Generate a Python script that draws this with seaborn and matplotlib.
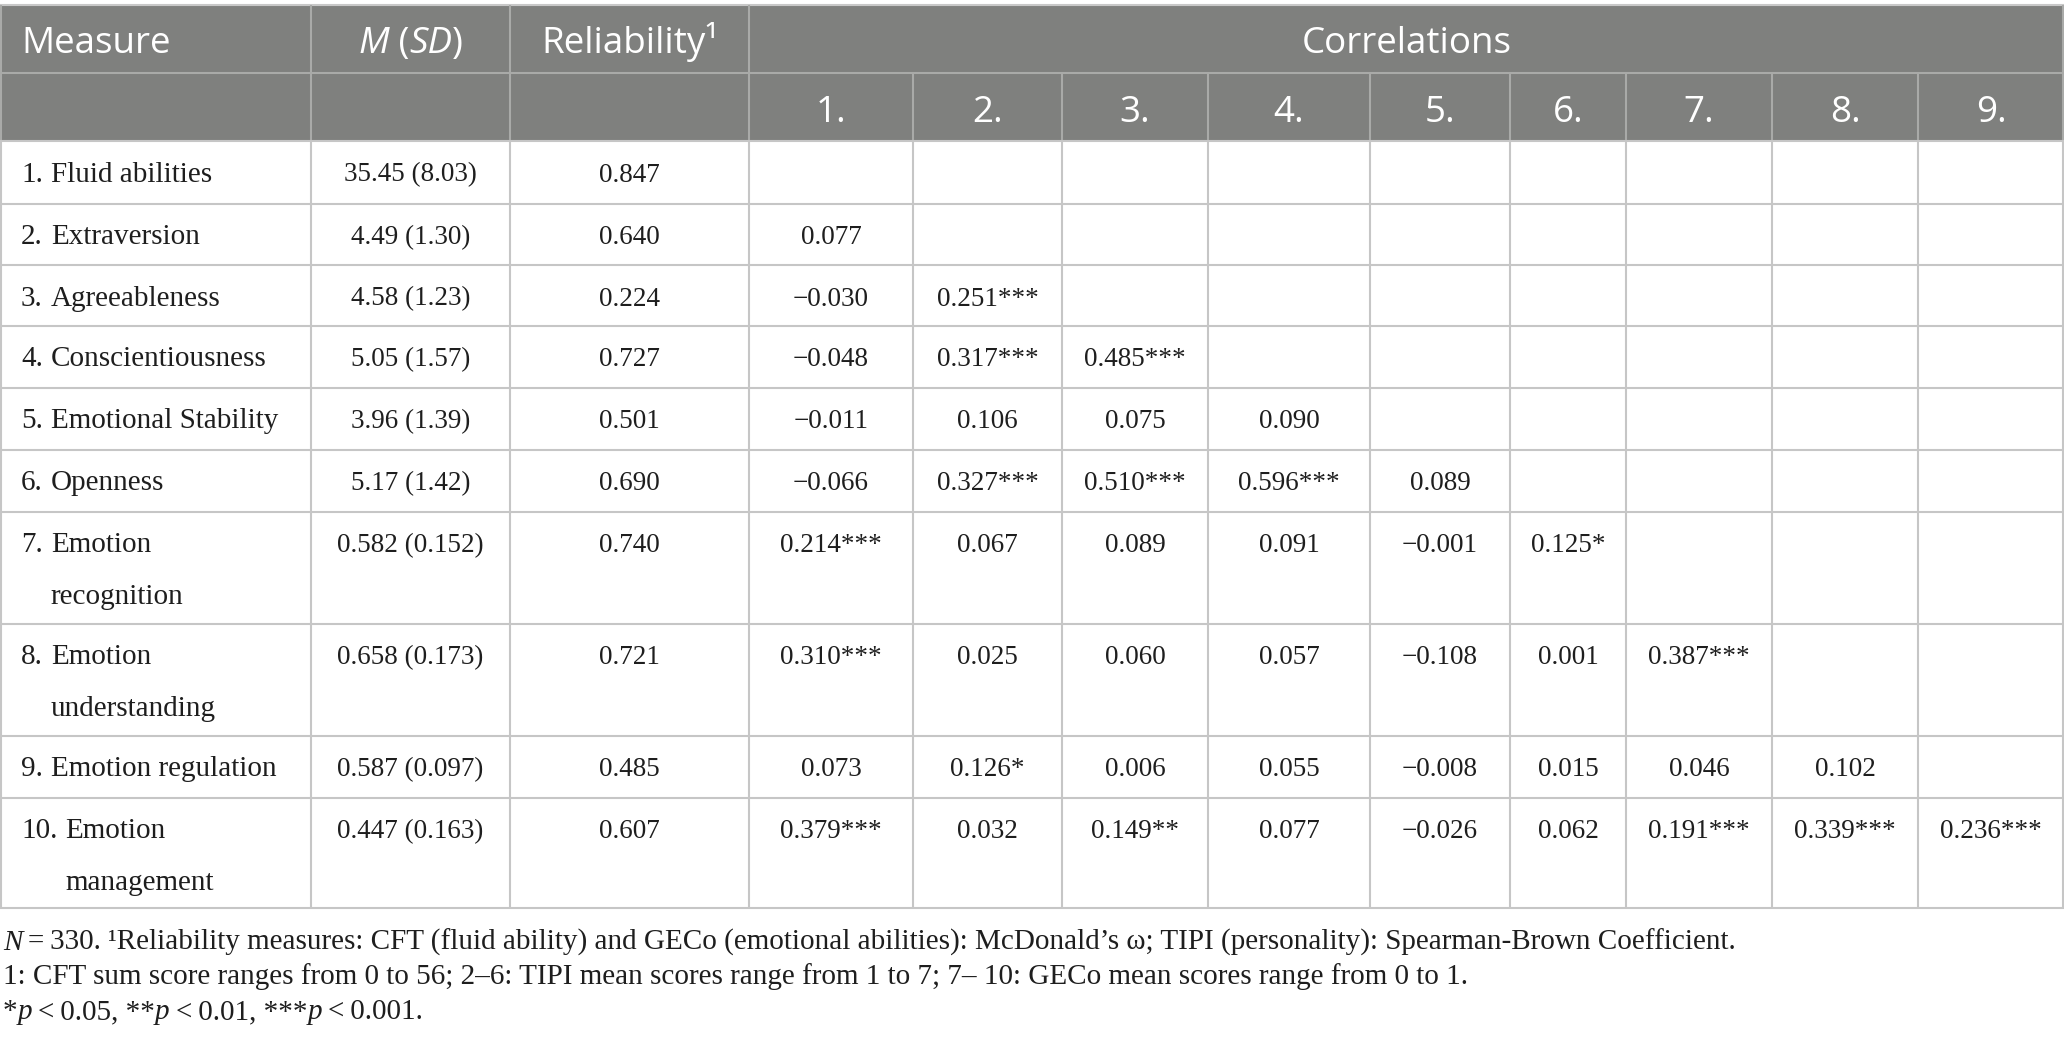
import matplotlib
matplotlib.use("Agg")
import matplotlib.pyplot as plt
from matplotlib.patches import Rectangle
import seaborn as sns

# ---- table data ----
measures = ["Fluid abilities", "Extraversion", "Agreeableness", "Conscientiousness",
            "Emotional Stability", "Openness", "Emotion recognition",
            "Emotion understanding", "Emotion regulation", "Emotion management"]
means = [35.45, 4.49, 4.58, 5.05, 3.96, 5.17, 0.582, 0.658, 0.587, 0.447]
sds = [8.03, 1.30, 1.23, 1.57, 1.39, 1.42, 0.152, 0.173, 0.097, 0.163]
reliability = [0.847, 0.640, 0.224, 0.727, 0.501, 0.690, 0.740, 0.721, 0.485, 0.607]

# lower triangle of the correlation matrix (row i has i entries)
corr = [
    [],
    [0.077],
    [-0.030, 0.251],
    [-0.048, 0.317, 0.485],
    [-0.011, 0.106, 0.075, 0.090],
    [-0.066, 0.327, 0.510, 0.596, 0.089],
    [0.214, 0.067, 0.089, 0.091, -0.001, 0.125],
    [0.310, 0.025, 0.060, 0.057, -0.108, 0.001, 0.387],
    [0.073, 0.126, 0.006, 0.055, -0.008, 0.015, 0.046, 0.102],
    [0.379, 0.032, 0.149, 0.077, -0.026, 0.062, 0.191, 0.339, 0.236],
]
# number of significance stars per correlation
stars = [
    [],
    [0],
    [0, 3],
    [0, 3, 3],
    [0, 0, 0, 0],
    [0, 3, 3, 3, 0],
    [3, 0, 0, 0, 0, 1],
    [3, 0, 0, 0, 0, 0, 3],
    [0, 1, 0, 0, 0, 0, 0, 0],
    [3, 0, 2, 0, 0, 0, 3, 3, 3],
]
corr_labels = ["1.", "2.", "3.", "4.", "5.", "6.", "7.", "8.", "9."]

TS = "\u2009"  # thin space, as in the typeset notes
footnotes = [
    [("N", "italic"), (f"{TS}={TS}330. \u00b9Reliability measures: CFT (fluid ability) and GECo (emotional abilities): "
                       "McDonald\u2019s \u03c9; TIPI (personality): Spearman-Brown Coefficient.", "normal")],
    [("1: CFT sum score ranges from 0 to 56; 2\u20136: TIPI mean scores range from 1 to 7; "
      "7\u2013 10: GECo mean scores range from 0 to 1.", "normal")],
    [("*", "normal"), ("p", "italic"), (f"{TS}<{TS}0.05, **", "normal"), ("p", "italic"),
     (f"{TS}<{TS}0.01, ***", "normal"), ("p", "italic"), (f"{TS}<{TS}0.001.", "normal")],
]

# ---- layout (pixels) ----
W, H = 2064, 1038
col_edges = [0, 311, 510, 749, 913, 1062, 1208, 1370, 1510, 1626, 1772, 1918, 2064]
hdr_top, hdr_mid, hdr_bot = 5, 73, 141
row_edges = [141, 204, 265, 326, 388, 450, 512, 624, 736, 798, 908]
wrapped = {6, 7, 9}

HDR_BG = "#7f807e"
HDR_LINE = "#a9aaa8"
GRID = "#c6c6c6"
INK = "#1e1e1e"
SANS = ["Open Sans", "DejaVu Sans"]
SERIF = ["Liberation Serif", "DejaVu Serif"]
HDR_SIZE = 26.5
LABEL_SIZE = 21
BODY_SIZE = 19.5
NOTE_SIZE = 21

sns.set_theme(style="white")
plt.rcParams["font.family"] = SERIF

fig = plt.figure(figsize=(W / 100, H / 100), dpi=100)
ax = fig.add_axes([0, 0, 1, 1])
ax.set_xlim(0, W)
ax.set_ylim(H, 0)
ax.axis("off")
renderer = fig.canvas.get_renderer()


def seg_text(x, y, parts, ha="left", **kw):
    """Draw text made of (string, style) pieces on one baseline."""
    arts = [ax.text(0, y, s, fontstyle=st, ha="left", va="baseline", **kw) for s, st in parts]
    widths = [a.get_window_extent(renderer).width for a in arts]
    pos = x - sum(widths) / 2 if ha == "center" else x
    for a, w in zip(arts, widths):
        a.set_x(pos)
        pos += w
    return arts


def fmt(v, nd=3):
    s = f"{abs(v):.{nd}f}"
    return ("\u2212" + s) if v < 0 else s


# header background and lines
ax.add_patch(Rectangle((0, hdr_top), W, hdr_bot - hdr_top, color=HDR_BG, lw=0))
ax.hlines(hdr_top, 0, W, color="#c8c8c8", lw=1.5)
ax.hlines(hdr_mid, 0, W, color=HDR_LINE, lw=1.5)
ax.vlines(col_edges[1:4], hdr_top, hdr_bot, color=HDR_LINE, lw=1.5)
ax.vlines(col_edges[4:-1], hdr_mid, hdr_bot, color=HDR_LINE, lw=1.5)
ax.vlines([1, W - 1], hdr_top, hdr_bot, color=HDR_LINE, lw=1.5)

# body grid
ax.hlines(row_edges, 0, W, color=GRID, lw=1.5)
ax.vlines(col_edges[1:-1] + [1, W - 1], hdr_bot, row_edges[-1], color=GRID, lw=1.5)

# header text
hkw = dict(family=SANS, size=HDR_SIZE, color="white")
ax.text(21, 53, "Measure", ha="left", va="baseline", **hkw)
seg_text((col_edges[1] + col_edges[2]) / 2, 53,
         [("M", "italic"), (" (", "normal"), ("SD", "italic"), (")", "normal")], ha="center", **hkw)
ax.text((col_edges[2] + col_edges[3]) / 2, 53, "Reliability\u00b9", ha="center", va="baseline", **hkw)
ax.text((col_edges[3] + col_edges[-1]) / 2, 53, "Correlations", ha="center", va="baseline", **hkw)
for j, lab in enumerate(corr_labels):
    ax.text((col_edges[3 + j] + col_edges[4 + j]) / 2, 122, lab, ha="center", va="baseline", **hkw)

# body text
lkw = dict(family=SERIF, size=LABEL_SIZE, color=INK)
bkw = dict(family=SERIF, size=BODY_SIZE, color=INK)
for i, name in enumerate(measures):
    base = row_edges[i] + 40.5
    num = ax.text(21, base, f"{i + 1}.", ha="left", va="baseline", **lkw)
    num_w = num.get_window_extent(renderer).width
    name_x = 21 + num_w + 8
    if i in wrapped:
        first, second = name.split(" ", 1)
        ax.text(name_x, base, first, ha="left", va="baseline", **lkw)
        ax.text(name_x, base + 51, second, ha="left", va="baseline", **lkw)
    else:
        ax.text(name_x, base, name, ha="left", va="baseline", **lkw)

    nd = 3 if means[i] < 1 else 2
    ax.text((col_edges[1] + col_edges[2]) / 2, base, f"{means[i]:.{nd}f} ({sds[i]:.{nd}f})",
            ha="center", va="baseline", **bkw)
    ax.text((col_edges[2] + col_edges[3]) / 2, base, f"{reliability[i]:.3f}",
            ha="center", va="baseline", **bkw)
    for j, (r, s) in enumerate(zip(corr[i], stars[i])):
        ax.text((col_edges[3 + j] + col_edges[4 + j]) / 2, base, fmt(r) + "*" * s,
                ha="center", va="baseline", **bkw)

# footnotes
nkw = dict(family=SERIF, size=NOTE_SIZE, color=INK)
for k, parts in enumerate(footnotes):
    seg_text(3, 950 + k * 34.5, parts, **nkw)

fig.savefig("out.png", dpi=100)
